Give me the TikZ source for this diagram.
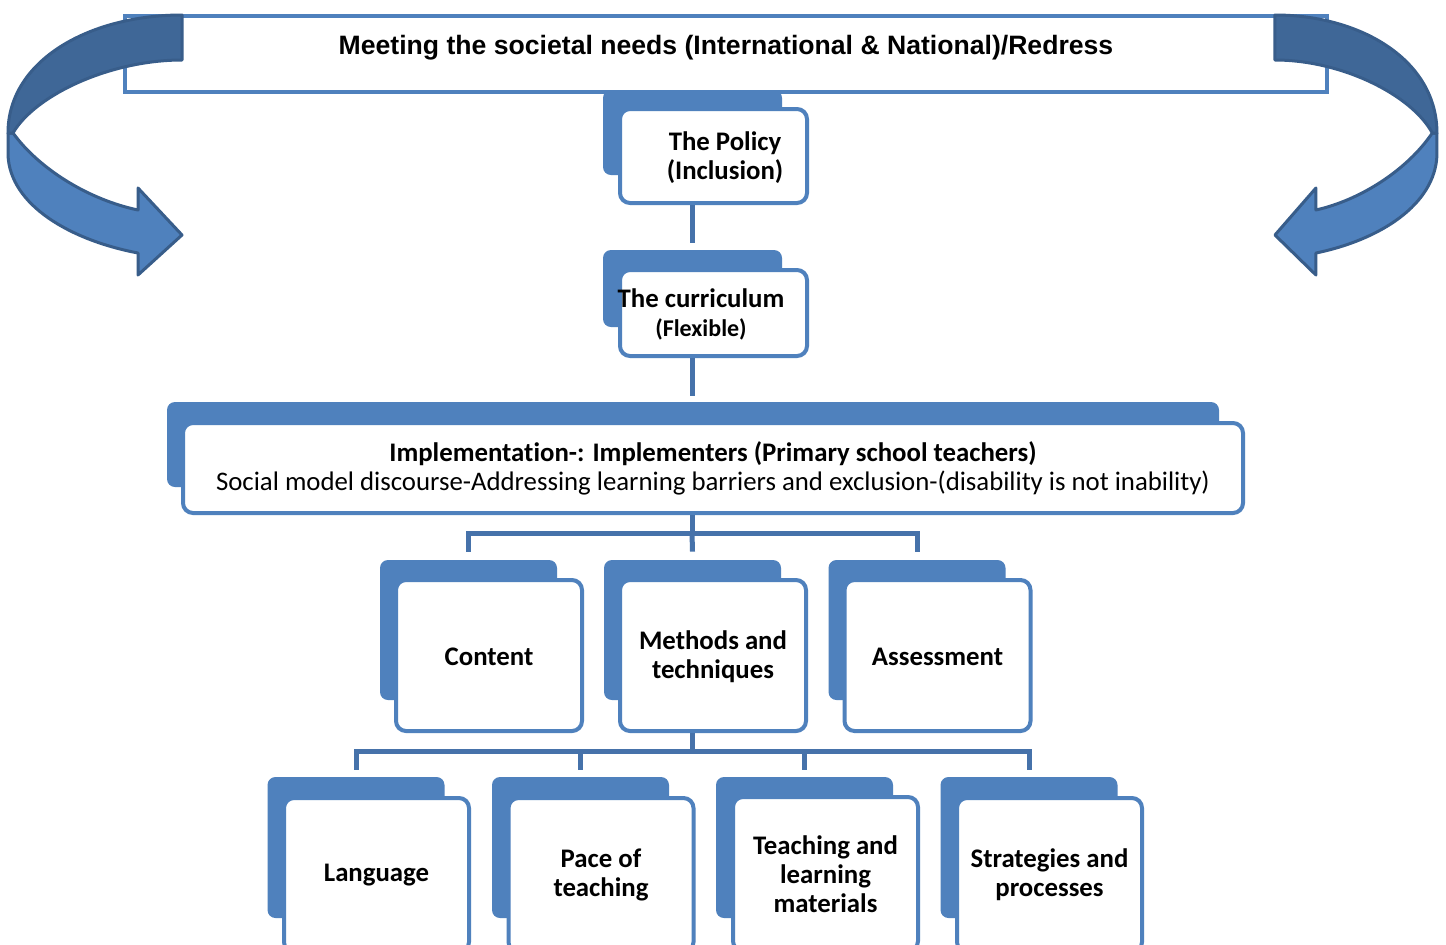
\documentclass[tikz,border=0pt]{standalone}
\usepackage{fontspec}
\setmainfont[Ligatures=NoCommon]{Carlito}
\newfontfamily\arialfont{Liberation Sans}
\definecolor{boxblue}{HTML}{4F81BD}
\definecolor{darkband}{HTML}{3F6797}
\definecolor{arrowline}{HTML}{385D8A}
\definecolor{linkblue}{HTML}{4672AA}
\newcommand{\curvedarrowshape}{%
  \filldraw[fill=boxblue, draw=arrowline, line width=1.5pt, line join=round]
    (8,133) -- (8,155) .. controls (10,205) and (70,240) .. (138,253) -- (138,275) -- (182,235)
    -- (138,188) -- (138,210) .. controls (90,200) and (40,170) .. (13,133) -- cycle;
  \filldraw[fill=darkband, draw=arrowline, line width=1.5pt, line join=round]
    (182,15) .. controls (90,15) and (8,60) .. (8,133) -- (13,133)
    .. controls (35,95) and (110,60) .. (182,60) -- cycle;
}
\begin{document}
\begin{tikzpicture}[x=0.5pt,y=-0.5pt,
  backbox/.style={fill=boxblue, rounded corners=4pt, inner sep=0pt},
  frontbox/.style={draw=boxblue, fill=white, line width=2pt, rounded corners=5pt, inner sep=0pt},
  lbl/.style={font=\bfseries\fontsize{13.4}{14.5}\selectfont, align=center, text=black},
  link/.style={draw=linkblue, line width=2.5pt},
]
\clip (0,0) rectangle (1446,944);
\fill[white] (0,0) rectangle (1446,944);

% banner
\node[draw=boxblue, line width=2pt, minimum width=601pt, minimum height=38pt, inner sep=0pt] (banner) at (726,54) {};
\node[font=\arialfont\bfseries\fontsize{13.3}{15}\selectfont] (title) at (726,47.5) {Meeting the societal needs (International \& National)/Redress};

% curved arrows
\curvedarrowshape
\begin{scope}[shift={(1444.4,0)}, xscale=-0.931]
\curvedarrowshape
\end{scope}

% back boxes
\node[backbox, minimum width=89.5pt, minimum height=42.5pt] (policyback) at (692.5,132.5) {};
\node[backbox, minimum width=89.5pt, minimum height=38.5pt] (curricback) at (692.5,288.5) {};
\node[backbox, minimum width=526pt, minimum height=42.5pt] (implback) at (693,444.5) {};
\node[backbox, minimum width=88.5pt, minimum height=70pt] (contentback) at (468.5,630) {};
\node[backbox, minimum width=88.5pt, minimum height=70pt] (methback) at (692.5,630) {};
\node[backbox, minimum width=88.5pt, minimum height=70pt] (assessback) at (917,630) {};
\node[backbox, minimum width=88.5pt, minimum height=70.5pt] (langback) at (356,847.5) {};
\node[backbox, minimum width=88.5pt, minimum height=70.5pt] (paceback) at (580.5,847.5) {};
\node[backbox, minimum width=88.5pt, minimum height=70.5pt] (teachback) at (804.5,847.5) {};
\node[backbox, minimum width=88.5pt, minimum height=70.5pt] (stratback) at (1029,847.5) {};

% front boxes
\node[frontbox, minimum width=93.5pt, minimum height=47pt] (policy) at (713.5,156) {};
\node[lbl] (policytext) at (725,158) {The Policy\\(Inclusion)};
\node[frontbox, minimum width=93.5pt, minimum height=43pt] (curric) at (713.5,313) {};
\node[lbl] (currictext) at (701,314.5) {The curriculum\\{\fontsize{12}{14}\selectfont (Flexible)}};
\node[frontbox, minimum width=530pt, minimum height=45pt] (impl) at (713,468) {};
\node[font=\fontsize{13.4}{14.5}\selectfont, align=center] (impltext) at (713,468)
  {\textbf{Implementation-: Implementers (Primary school teachers)}\\Social model discourse-Addressing learning barriers and exclusion-(disability is not inability)};
\node[frontbox, minimum width=93pt, minimum height=75.5pt] (content) at (489,655.5) {};
\node[lbl] (contenttext) at (489,657) {Content};
\node[frontbox, minimum width=93pt, minimum height=75.5pt] (meth) at (713,655.5) {};
\node[lbl] (methtext) at (713,657) {Methods and\\techniques};
\node[frontbox, minimum width=93pt, minimum height=75.5pt] (assess) at (937.5,655.5) {};
\node[lbl] (assesstext) at (937.5,657) {Assessment};
\node[frontbox, lbl, minimum width=92.5pt, minimum height=77pt] (lang) at (376.5,875) {Language};
\node[frontbox, lbl, minimum width=92.5pt, minimum height=77pt] (pace) at (601,875) {Pace of\\teaching};
\node[frontbox, lbl, minimum width=92.5pt, minimum height=77pt] (teach) at (825.5,874) {Teaching and\\learning\\materials};
\node[frontbox, lbl, minimum width=92.5pt, minimum height=77pt] (strat) at (1049.5,875) {Strategies and\\processes};

% connectors
\coordinate (trunk) at (692,0);
\coordinate (bus1) at (692,533);
\coordinate (bus2) at (692,751);
\draw[link] (policy.south -| trunk) -- ([yshift=3.5pt]curricback.north -| trunk);
\draw[link] (curric.south -| trunk) -- ([yshift=3pt]implback.north -| trunk);
\draw[link] (impl.south -| bus1) -- (bus1);
\draw[link] ([yshift=4pt]contentback.north) |- (bus1) -| ([yshift=4pt]assessback.north);
\draw[link] (bus1) -- ([yshift=4pt]methback.north);
\draw[link] (meth.south -| bus2) -- (bus2);
\draw[link] ([yshift=3.5pt]langback.north) |- (bus2) -| ([yshift=3.5pt]stratback.north);
\draw[link] ([yshift=3.5pt]paceback.north) -- (paceback.north |- bus2);
\draw[link] ([yshift=3.5pt]teachback.north) -- (teachback.north |- bus2);
\end{tikzpicture}
\end{document}
